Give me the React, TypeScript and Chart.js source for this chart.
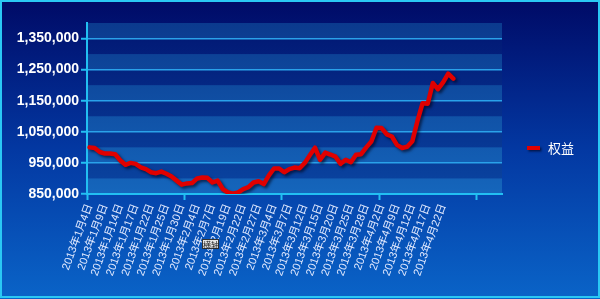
import React, { useEffect, useRef } from "react";
import { Chart, registerables } from "chart.js";

Chart.register(...registerables);

const dates: string[] = [
  "2013年1月4日", "2013年1月7日", "2013年1月8日", "2013年1月9日", "2013年1月10日", "2013年1月11日",
  "2013年1月14日", "2013年1月15日", "2013年1月16日", "2013年1月17日", "2013年1月18日", "2013年1月21日",
  "2013年1月22日", "2013年1月23日", "2013年1月24日", "2013年1月25日", "2013年1月28日", "2013年1月29日",
  "2013年1月30日", "2013年1月31日", "2013年2月1日", "2013年2月4日", "2013年2月5日", "2013年2月6日",
  "2013年2月7日", "2013年2月8日", "2013年2月18日", "2013年2月19日", "2013年2月20日", "2013年2月21日",
  "2013年2月22日", "2013年2月25日", "2013年2月26日", "2013年2月27日", "2013年2月28日", "2013年3月1日",
  "2013年3月4日", "2013年3月5日", "2013年3月6日", "2013年3月7日", "2013年3月8日", "2013年3月11日",
  "2013年3月12日", "2013年3月13日", "2013年3月14日", "2013年3月15日", "2013年3月18日", "2013年3月19日",
  "2013年3月20日", "2013年3月21日", "2013年3月22日", "2013年3月25日", "2013年3月26日", "2013年3月27日",
  "2013年3月28日", "2013年3月29日", "2013年4月1日", "2013年4月2日", "2013年4月3日", "2013年4月8日",
  "2013年4月9日", "2013年4月10日", "2013年4月11日", "2013年4月12日", "2013年4月15日", "2013年4月16日",
  "2013年4月17日", "2013年4月18日", "2013年4月19日", "2013年4月22日", "2013年4月23日", "2013年4月24日",
];

// empty trailing categories on the axis
const emptySlots: string[] = ["", "", "", "", "", "", "", "", ""];

const equity: number[] = [
  1000000, 998000, 985000, 980000, 980000, 978000, 958000, 944000, 950000, 947000,
  936000, 930000, 920000, 917000, 922000, 915000, 906000, 893000, 880000, 884000,
  885000, 900000, 903000, 902000, 887000, 893000, 866000, 855000, 851000, 855000,
  866000, 872000, 887000, 891000, 882000, 910000, 932000, 932000, 920000, 930000,
  935000, 933000, 950000, 975000, 999000, 960000, 983000, 977000, 970000, 947000,
  960000, 952000, 976000, 978000, 1000000, 1019000, 1063000, 1062000, 1042000, 1035000,
  1008000, 998000, 1002000, 1020000, 1085000, 1142000, 1140000, 1207000, 1187000, 1209000,
  1237000, 1221000,
];

const seriesName = "权益";
const yMin = 850000;
const yMax = 1400000;
const yLabelStep = 100000;
const yGridStep = 50000;
const xLabelEvery = 3;
const xTickEvery = 19;

const CYAN = "#22bff2";
const GRID = "#2aa2ea";

export default function App() {
  const ref = useRef<HTMLCanvasElement | null>(null);

  useEffect(() => {
    const canvas = ref.current;
    if (!canvas) return;
    const labels = [...dates, ...emptySlots];

    const bgPlugin = {
      id: "bg",
      beforeDraw(chart: any) {
        const { ctx, width, height, chartArea, scales } = chart;
        ctx.save();
        const g = ctx.createLinearGradient(0, 0, 0, height);
        g.addColorStop(0, "#000a66");
        g.addColorStop(0.5, "#0338a2");
        g.addColorStop(1, "#0a64c8");
        ctx.fillStyle = g;
        ctx.fillRect(0, 0, width, height);
        ctx.strokeStyle = "#2ac8f4";
        ctx.lineWidth = 2;
        ctx.strokeRect(1, 1, width - 2, height - 3);

        const { left, right, top, bottom } = chartArea;
        const ga = ctx.createLinearGradient(0, top, 0, bottom);
        ga.addColorStop(0, "#011672");
        ga.addColorStop(1, "#0a46a2");
        ctx.fillStyle = ga;
        ctx.fillRect(left, top, right - left, bottom - top);
        const gb = ctx.createLinearGradient(0, top, 0, bottom);
        gb.addColorStop(0, "#0b3a8e");
        gb.addColorStop(1, "#1566bc");
        ctx.fillStyle = gb;
        const y = scales.y;
        for (let v = yMin; v < yMax; v += yLabelStep) {
          const y0 = y.getPixelForValue(v);
          const y1 = y.getPixelForValue(Math.min(v + yGridStep, yMax));
          ctx.fillRect(left, y1, right - left, y0 - y1);
        }
        ctx.restore();
      },
    };

    const shadowPlugin = {
      id: "shadow",
      beforeDatasetDraw(chart: any) {
        const ctx = chart.ctx;
        ctx.save();
        ctx.shadowColor = "rgba(0,0,20,0.6)";
        ctx.shadowOffsetX = 2;
        ctx.shadowOffsetY = 2;
        ctx.shadowBlur = 3;
      },
      afterDatasetDraw(chart: any) {
        chart.ctx.restore();
      },
    };

    const legendPlugin = {
      id: "customLegend",
      afterDraw(chart: any) {
        const ctx = chart.ctx;
        ctx.save();
        ctx.shadowColor = "rgba(0,0,20,0.6)";
        ctx.shadowOffsetX = 1.5;
        ctx.shadowOffsetY = 1.5;
        ctx.shadowBlur = 2;
        ctx.strokeStyle = "#e00000";
        ctx.lineWidth = 4;
        ctx.beginPath();
        ctx.moveTo(527, 148);
        ctx.lineTo(540, 148);
        ctx.stroke();
        ctx.restore();
        ctx.save();
        ctx.fillStyle = "#ffffff";
        ctx.font = '13px "Noto Sans CJK SC", sans-serif';
        ctx.textBaseline = "middle";
        ctx.textAlign = "left";
        ctx.fillText(seriesName, 548, 148);
        // small tooltip box visible in the picture
        ctx.fillStyle = "#e6e6e6";
        ctx.fillRect(202, 239, 17, 10);
        ctx.strokeStyle = "#333";
        ctx.lineWidth = 1;
        ctx.strokeRect(202.5, 239.5, 16, 9);
        ctx.fillStyle = "#222";
        ctx.font = '8px "Noto Sans CJK SC", sans-serif';
        ctx.fillText("横轴", 203, 244.5);
        ctx.restore();
      },
    };

    const chart = new Chart(canvas, {
      type: "line",
      data: {
        labels,
        datasets: [
          {
            label: seriesName,
            data: equity,
            borderColor: "#e00000",
            borderWidth: 4.5,
            pointRadius: 0,
            tension: 0,
            fill: false,
            borderJoinStyle: "round",
            borderCapStyle: "round",
          },
        ],
      },
      options: {
        responsive: false,
        animation: false,
        layout: { padding: { left: 2, top: 23, right: 98, bottom: 0 } },
        plugins: {
          legend: { display: false },
          tooltip: { enabled: false },
        },
        scales: {
          x: {
            type: "category",
            offset: true,
            afterFit(scale: any) {
              scale.height = 105;
            },
            border: { display: true, color: CYAN, width: 2 },
            grid: {
              offset: true,
              drawOnChartArea: false,
              drawTicks: true,
              tickLength: 6,
              tickWidth: 2,
              tickColor: (c: any) => (c.index % xTickEvery === 0 ? CYAN : "rgba(0,0,0,0)"),
            },
            ticks: {
              autoSkip: false,
              minRotation: 70,
              maxRotation: 70,
              padding: 2,
              color: "#e4ebff",
              font: { family: '"Liberation Sans", "Noto Sans CJK SC", sans-serif', size: 11 },
              callback: (_v: any, i: number) => (i % xLabelEvery === 0 && i < dates.length ? labels[i] : ""),
            },
          },
          y: {
            min: yMin,
            max: yMax,
            afterFit(scale: any) {
              scale.width = 85;
            },
            border: { display: true, color: CYAN, width: 2 },
            grid: {
              color: (c: any) => (c.tick && c.tick.value >= yMax ? "rgba(0,0,0,0)" : GRID),
              lineWidth: 1.5,
              drawTicks: true,
              tickLength: 6,
              tickWidth: 2,
              tickColor: (c: any) =>
                c.tick && (c.tick.value - yMin) % yLabelStep === 0 && c.tick.value < yMax ? CYAN : "rgba(0,0,0,0)",
            },
            ticks: {
              stepSize: yGridStep,
              padding: 2,
              color: "#ffffff",
              font: { family: '"Liberation Sans", Arial, sans-serif', size: 14, weight: "bold" },
              callback: (v: any) => {
                const n = Number(v);
                if ((n - yMin) % yLabelStep !== 0 || n >= yMax) return "";
                return n.toLocaleString("en-US");
              },
            },
          },
        },
      },
      plugins: [bgPlugin, shadowPlugin, legendPlugin],
    });
    return () => chart.destroy();
  }, []);

  return (
    <div style={{ position: "fixed", left: 0, top: 0, width: 600, height: 299 }}>
      <canvas ref={ref} width={600} height={299} style={{ width: 600, height: 299, display: "block" }} />
    </div>
  );
}
